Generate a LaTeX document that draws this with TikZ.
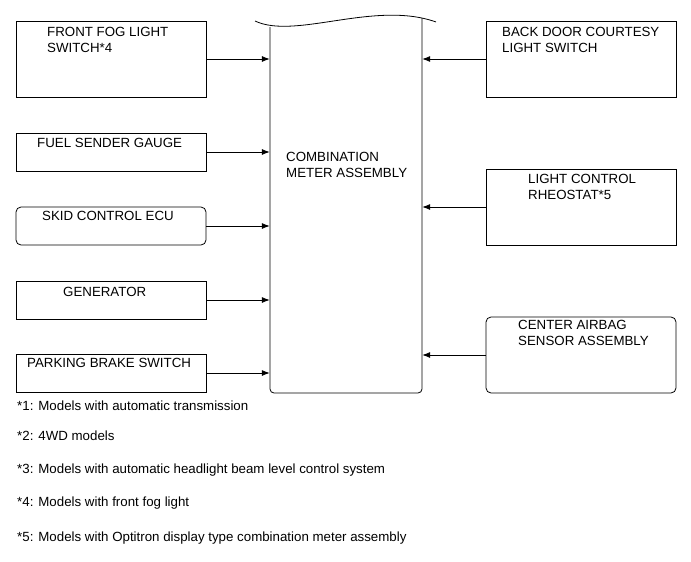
\documentclass[tikz,border=0pt]{standalone}
\usepackage{fontspec}
\setmainfont{Liberation Sans}
\usetikzlibrary{arrows.meta}

\tikzset{
    box/.style={draw, line width=0.8pt, minimum width=190pt, inner sep=0pt},
    rbox/.style={box, rounded corners=5pt},
    lbl/.style={anchor=north west, inner sep=0pt, align=left, font=\fontsize{13.3}{16}\selectfont},
    note/.style={anchor=base west, inner sep=0pt, font=\fontsize{13.3}{16}\selectfont},
    feed/.style={line width=0.8pt, -{Latex[length=8pt,width=6pt]}}
}

\begin{document}
\begin{tikzpicture}[x=1pt,y=-1pt]
    \useasboundingbox (0,0) rectangle (691,562);

    % draw meter assembly
    \node[minimum width=152pt, minimum height=375pt, inner sep=0pt] (meter) at (346,205.5) {};
    \draw[line width=0.8pt, rounded corners=4pt] (270,27) -- (270,393) -- (422,393) -- (422,18);
    \draw[line width=0.8pt] (255,21) .. controls (295,40) and (375,0) .. (436,22);
    \node[lbl] (meterlbl) at (286,152.5) {COMBINATION\\METER ASSEMBLY};

    % draw left boxes
    \node[box, minimum height=76pt] (fog) at (111,59) {};
    \node[box, minimum height=38pt] (fuel) at (111,152) {};
    \node[rbox, minimum height=38pt] (skid) at (111,226) {};
    \node[box, minimum height=38pt] (gen) at (111,300) {};
    \node[box, minimum height=38pt] (park) at (111,373) {};

    \node[lbl] (foglbl) at (47,27) {FRONT FOG LIGHT\\SWITCH*4};
    \node[lbl] (fuellbl) at (37,138.5) {FUEL SENDER GAUGE};
    \node[lbl] (skidlbl) at (42,211.5) {SKID CONTROL ECU};
    \node[lbl] (genlbl) at (63,287) {GENERATOR};
    \node[lbl] (parklbl) at (27,358.5) {PARKING BRAKE SWITCH};

    % draw right boxes
    \node[box, minimum height=76pt] (door) at (581,59) {};
    \node[box, minimum height=76pt] (rheo) at (581,207) {};
    \node[rbox, minimum height=76pt] (airbag) at (581,355) {};

    \node[lbl] (doorlbl) at (502,27) {BACK DOOR COURTESY\\LIGHT SWITCH};
    \node[lbl] (rheolbl) at (528,174.5) {LIGHT CONTROL\\RHEOSTAT*5};
    \node[lbl] (airbaglbl) at (518,320.5) {CENTER AIRBAG\\SENSOR ASSEMBLY};

    % draw arrows
    \foreach \src in {fog,fuel,skid,gen,park}
    \draw[feed] (\src.east) -- (\src.east -| meter.west);
    \foreach \src in {door,rheo,airbag}
    \draw[feed] (\src.west) -- (\src.west -| meter.east);

    % draw notes
    \node[note] (n1) at (17,410) {*1: Models with automatic transmission};
    \node[note] (n2) at (17,440.5) {*2: 4WD models};
    \node[note] (n3) at (17,473) {*3: Models with automatic headlight beam level control system};
    \node[note] (n4) at (17,506) {*4: Models with front fog light};
    \node[note] (n5) at (17,541.5) {*5: Models with Optitron display type combination meter assembly};
\end{tikzpicture}
\end{document}
